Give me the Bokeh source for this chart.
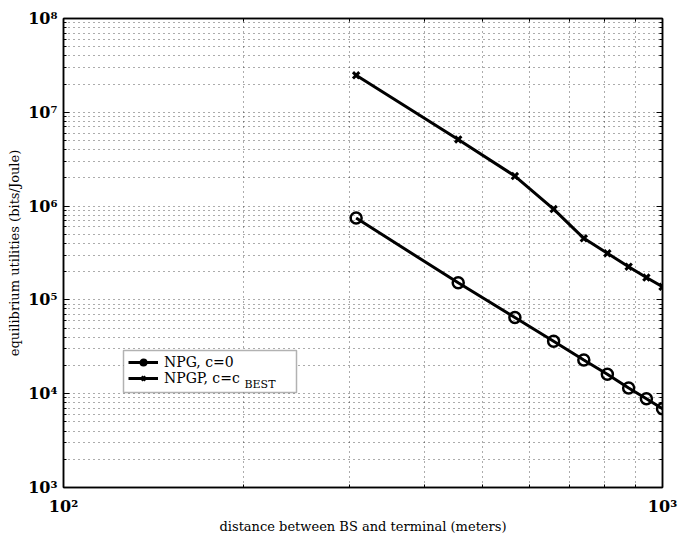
from bokeh.plotting import figure
from bokeh.models import (FixedTicker, CustomJSTickFormatter, Legend, LegendItem, Label,
                          LogAxis, BoxAnnotation)
from bokeh.embed import file_html
from bokeh.resources import INLINE

# ---- data ----
distance = [308, 456, 567, 658, 739, 809, 878, 940, 1000]
npg_c0 = [7.45e5, 1.52e5, 6.5e4, 3.62e4, 2.29e4, 1.61e4, 1.15e4, 8.85e3, 6.92e3]
npgp_best = [2.48e7, 5.13e6, 2.09e6, 9.3e5, 4.53e5, 3.14e5, 2.26e5, 1.73e5, 1.38e5]

x_major = [100, 1000]
x_minor = [200, 300, 400, 500, 600, 700, 800, 900]
x_labels = ["10\u00b2", "10\u00b3"]
y_major = [1e3, 1e4, 1e5, 1e6, 1e7, 1e8]
y_minor = [m * 10 ** e for e in range(3, 8) for m in range(2, 10)]
y_labels = ["10\u00b3", "10\u2074", "10\u2075", "10\u2076", "10\u2077", "10\u2078"]

SERIF = "DejaVu Serif"

p = figure(width=680, height=536, x_axis_type="log", y_axis_type="log",
           x_range=(100, 1000), y_range=(1e3, 1e8),
           output_backend="svg", toolbar_location=None,
           min_border_left=63, min_border_right=18, min_border_top=18, min_border_bottom=48)

p.background_fill_color = "white"
p.outline_line_color = "black"
p.outline_line_width = 1.5

fmt_code = """
const i = vals.findIndex(v => Math.abs(Math.log10(v) - Math.log10(tick)) < 1e-6);
return i >= 0 ? labs[i] : '';
"""
xt = FixedTicker(ticks=x_major, minor_ticks=x_minor)
yt = FixedTicker(ticks=y_major, minor_ticks=y_minor)

bottom_ax = p.below[0]
left_ax = p.left[0]
bottom_ax.ticker = xt
left_ax.ticker = yt
p.xgrid.ticker = xt
p.ygrid.ticker = yt
bottom_ax.formatter = CustomJSTickFormatter(args=dict(vals=x_major, labs=x_labels), code=fmt_code)
left_ax.formatter = CustomJSTickFormatter(args=dict(vals=y_major, labs=y_labels), code=fmt_code)

# mirrored tick-only axes (top / right), like the original's box ticks
top_ax = LogAxis(ticker=xt, formatter=CustomJSTickFormatter(code="return '';"))
right_ax = LogAxis(ticker=yt, formatter=CustomJSTickFormatter(code="return '';"))
p.add_layout(top_ax, "above")
p.add_layout(right_ax, "right")

for ax in (bottom_ax, left_ax, top_ax, right_ax):
    ax.axis_line_color = "black"
    ax.axis_line_width = 1.5
    ax.major_tick_in = 6
    ax.major_tick_out = 0
    ax.minor_tick_in = 3
    ax.minor_tick_out = 0
    ax.major_tick_line_color = "black"
    ax.minor_tick_line_color = "black"
    ax.major_label_text_font = SERIF
    ax.major_label_text_font_style = "bold"
    ax.major_label_text_font_size = "16px"
    ax.major_label_text_color = "black"
    ax.axis_label_text_font = SERIF
    ax.axis_label_text_font_style = "normal"
    ax.axis_label_text_font_size = "13px"
    ax.axis_label_text_color = "black"

for ax in (top_ax, right_ax):
    ax.major_label_standoff = 0
    ax.major_label_text_font_size = "1px"

bottom_ax.axis_label = "distance between BS and terminal (meters)"
left_ax.axis_label = "equilibrium utilities (bits/Joule)"
bottom_ax.major_label_standoff = 9
bottom_ax.axis_label_standoff = 0
left_ax.major_label_standoff = 6
left_ax.axis_label_standoff = 3

for g in (p.xgrid[0], p.ygrid[0]):
    g.grid_line_color = "black"
    g.grid_line_alpha = 0.65
    g.grid_line_dash = "1 4"
    g.grid_line_width = 1
    g.minor_grid_line_color = "black"
    g.minor_grid_line_alpha = 0.65
    g.minor_grid_line_dash = "1 4"
    g.minor_grid_line_width = 1

l1 = p.line(distance, npg_c0, line_color="black", line_width=3)
s1 = p.scatter(distance, npg_c0, marker="circle", size=11, fill_color="white",
               fill_alpha=0.0, line_color="black", line_width=2.5)
l2 = p.line(distance, npgp_best, line_color="black", line_width=3)
s2 = p.scatter(distance, npgp_best, marker="x", size=9, line_color="black", line_width=3)

# legend frame (white box with black border) drawn beneath a transparent legend
legend_box = BoxAnnotation(left=60, right=233, bottom=95, top=137,
                           left_units="screen", right_units="screen",
                           bottom_units="screen", top_units="screen",
                           fill_color="white", fill_alpha=1.0,
                           line_color="black", line_width=1.5, level="annotation")
p.add_layout(legend_box)

legend = Legend(items=[LegendItem(label="NPG, c=0", renderers=[l1, s1]),
                       LegendItem(label="NPGP, c=c", renderers=[l2, s2])],
                location=(65, 101))
legend.border_line_color = None
legend.background_fill_alpha = 0.0
legend.label_text_font = SERIF
legend.label_text_font_size = "14px"
legend.label_text_color = "black"
legend.label_height = 14
legend.glyph_height = 14
legend.glyph_width = 30
legend.label_standoff = 6
legend.padding = 4
legend.spacing = 0
legend.margin = 0
legend.label_text_line_height = 1.0
p.add_layout(legend)

sub = Label(x=181, y=97, x_units="screen", y_units="screen", text="BEST",
            text_font=SERIF, text_font_size="11px", text_color="black",
            text_baseline="bottom", level="overlay")
p.add_layout(sub)

open("out.html", "w").write(file_html(p, INLINE))
